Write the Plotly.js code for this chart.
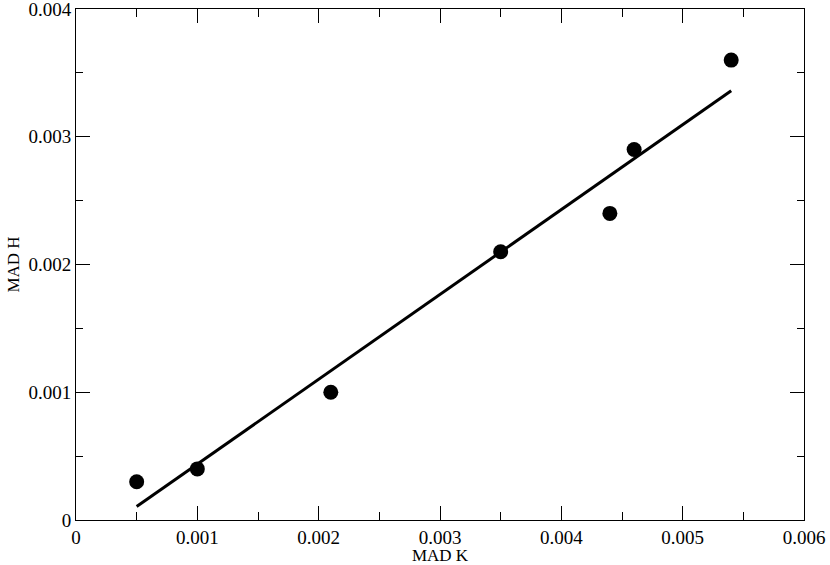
<!DOCTYPE html>
<html>
<head>
<meta charset="utf-8">
<script src="https://cdn.plot.ly/plotly-3.0.1.min.js"></script>
<style>html,body{margin:0;padding:0;background:#fff;}</style>
</head>
<body>
<div id="chart" style="width:830px;height:565px;"></div>
<script>
// Data
const madK = [0.0005, 0.0010, 0.0021, 0.0035, 0.0044, 0.0046, 0.0054];
const madH = [0.0003, 0.0004, 0.0010, 0.0021, 0.0024, 0.0029, 0.0036];
const fitK = [0.0005, 0.0054];
const fitH = [0.000105, 0.00336];
const xTicks = [0, 0.001, 0.002, 0.003, 0.004, 0.005, 0.006];
const xTickText = ['0', '0.001', '0.002', '0.003', '0.004', '0.005', '0.006'];
const yTicks = [0, 0.001, 0.002, 0.003, 0.004];
const yTickText = ['0', '0.001', '0.002', '0.003', '0.004'];

const tickFont = {family: 'Liberation Serif, serif', size: 19, color: '#000'};
const titleFont = {family: 'Liberation Serif, serif', size: 17, color: '#000'};

const traces = [
  {x: fitK, y: fitH, mode: 'lines', line: {color: '#000', width: 3}, hoverinfo: 'skip'},
  {x: madK, y: madH, mode: 'markers', marker: {color: '#000', size: 15}}
];

const axisCommon = {
  showgrid: false, zeroline: false, showline: true, linecolor: '#000', linewidth: 1,
  mirror: 'ticks', ticks: 'inside', ticklen: 14, tickwidth: 1, tickcolor: '#000',
  tickfont: tickFont, ticklabeloverflow: 'allow', automargin: false
};

const layout = {
  width: 830, height: 565,
  margin: {l: 76, r: 26, t: 9, b: 45},
  paper_bgcolor: '#fff', plot_bgcolor: '#fff',
  showlegend: false,
  font: tickFont,
  xaxis: Object.assign({}, axisCommon, {
    range: [0, 0.006], tickmode: 'array', tickvals: xTicks, ticktext: xTickText,
    minor: {dtick: 0.0005, ticks: 'inside', ticklen: 8, tickwidth: 1, tickcolor: '#000', showgrid: false},
    title: {text: 'MAD K', font: titleFont, standoff: 6}
  }),
  yaxis: Object.assign({}, axisCommon, {
    range: [0, 0.004], tickmode: 'array', tickvals: yTicks, ticktext: yTickText,
    minor: {dtick: 0.0005, ticks: 'inside', ticklen: 7, tickwidth: 1, tickcolor: '#000', showgrid: false},
    title: {text: 'MAD H', font: titleFont, standoff: 4}
  })
};

Plotly.newPlot('chart', traces, layout, {displayModeBar: false, staticPlot: true});
</script>
</body>
</html>
